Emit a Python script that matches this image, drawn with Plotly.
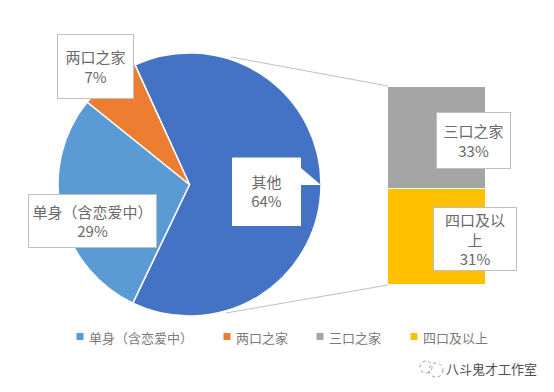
import plotly.graph_objects as go

W, H = 554, 392
FONT = "Noto Sans CJK SC"

pie_labels = ["其他", "单身（含恋爱中）", "两口之家"]
pie_values = [63.9, 28.7, 7.4]
pie_colors = ["#4472C4", "#5B9BD5", "#ED7D31"]

bar_labels = ["三口之家", "四口及以上"]
bar_values = [33, 31]
bar_colors = ["#A5A5A5", "#FFC000"]

legend_labels = ["单身（含恋爱中）", "两口之家", "三口之家", "四口及以上"]
legend_colors = ["#5B9BD5", "#ED7D31", "#A5A5A5", "#FFC000"]
legend_marker_x = [80, 227, 320, 414]
watermark = "八斗鬼才工作室"


def px(x):
    return x / W


def py(y):
    return 1 - y / H


fig = go.Figure()
fig.add_trace(go.Pie(
    labels=pie_labels, values=pie_values, sort=False, direction="clockwise",
    rotation=-24.5, textinfo="none", showlegend=False,
    marker=dict(colors=pie_colors, line=dict(color="#FFFFFF", width=1.5)),
    domain=dict(x=[px(58), px(321)], y=[py(316), py(53)]),
))
for name, val, col in zip(bar_labels, bar_values, bar_colors):
    fig.add_trace(go.Bar(
        x=[0], y=[val], name=name, width=1, showlegend=False,
        marker=dict(color=col, line=dict(color="#FFFFFF", width=1.5)),
    ))

shapes = [
    dict(type="line", xref="paper", yref="paper", x0=px(x0), y0=py(y0), x1=px(x1), y1=py(y1),
         line=dict(color="#BFBFBF", width=1), layer="below")
    for x0, y0, x1, y1 in [(231, 57, 388, 86), (226, 313, 388, 285)]
]
# callout tail of the 其他 label
tail = [(232, 158), (301, 158), (301, 168), (321, 185), (301, 185), (301, 226), (232, 226)]
shapes.append(dict(
    type="path", xref="paper", yref="paper", layer="above",
    path="M " + " L ".join(f"{px(a):.5f},{py(b):.5f}" for a, b in tail) + " Z",
    fillcolor="#FFFFFF", line=dict(width=0),
))
# legend swatches
for mx, col in zip(legend_marker_x, legend_colors):
    shapes.append(dict(type="rect", xref="paper", yref="paper", layer="above",
                       x0=px(mx - 3.5), x1=px(mx + 3.5), y0=py(340), y1=py(333),
                       fillcolor=col, line=dict(width=0)))
# watermark bubbles
for cx, cy, r in [(426, 367, 6), (436, 370, 7)]:
    shapes.append(dict(type="circle", xref="paper", yref="paper", layer="above",
                       x0=px(cx - r), x1=px(cx + r), y0=py(cy + r), y1=py(cy - r),
                       line=dict(color="#999999", width=1, dash="dot")))

annotations = []


def box(text, x0, y0, x1, y1, border=True):
    annotations.append(dict(
        text=text, xref="paper", yref="paper", x=px((x0 + x1) / 2), y=py((y0 + y1) / 2),
        xanchor="center", yanchor="middle", showarrow=False, align="center",
        width=x1 - x0 - 2, height=y1 - y0 - 2, valign="middle",
        bgcolor="#FFFFFF", borderpad=0,
        bordercolor="#BFBFBF" if border else "rgba(0,0,0,0)", borderwidth=1,
        font=dict(family=FONT, size=15, color="#6A6A6A"),
    ))


def pct(v):
    return f"{round(v)}%"


box(f"{pie_labels[0]}<br>{pct(pie_values[0])}", 232, 157, 301, 225, border=False)
box(f"单身（含恋爱中）<br>{pct(pie_values[1])}", 28, 194, 157, 248)
box(f"{pie_labels[2]}<br>{pct(pie_values[2])}", 57, 34, 134, 99)
box(f"{bar_labels[0]}<br>{pct(bar_values[0])}", 436, 112, 511, 169)
box(f"四口及以<br>上<br>{pct(bar_values[1])}", 433, 207, 517, 271)

for mx, name in zip(legend_marker_x, legend_labels):
    annotations.append(dict(
        text=name, xref="paper", yref="paper", x=px(mx + 7), y=py(337),
        xanchor="left", yanchor="middle", showarrow=False,
        font=dict(family=FONT, size=13, color="#7A7A7A"),
    ))
annotations.append(dict(
    text=watermark, xref="paper", yref="paper", x=px(444), y=py(368),
    xanchor="left", yanchor="middle", showarrow=False,
    font=dict(family=FONT, size=13, color="#4D4D4D"),
))

fig.update_layout(
    width=W, height=H, margin=dict(l=0, r=0, t=0, b=0),
    paper_bgcolor="#FFFFFF", plot_bgcolor="rgba(0,0,0,0)",
    barmode="stack", bargap=0, showlegend=False,
    xaxis=dict(domain=[px(388), px(486)], range=[-0.5, 0.5], visible=False, fixedrange=True),
    yaxis=dict(domain=[py(285), py(87)], range=[64, 0], visible=False, fixedrange=True),
    shapes=shapes, annotations=annotations,
    font=dict(family=FONT),
)
fig.write_html("out.html", config={"displayModeBar": False},
               post_script="document.body.style.margin='0';window.dispatchEvent(new Event('resize'));")
